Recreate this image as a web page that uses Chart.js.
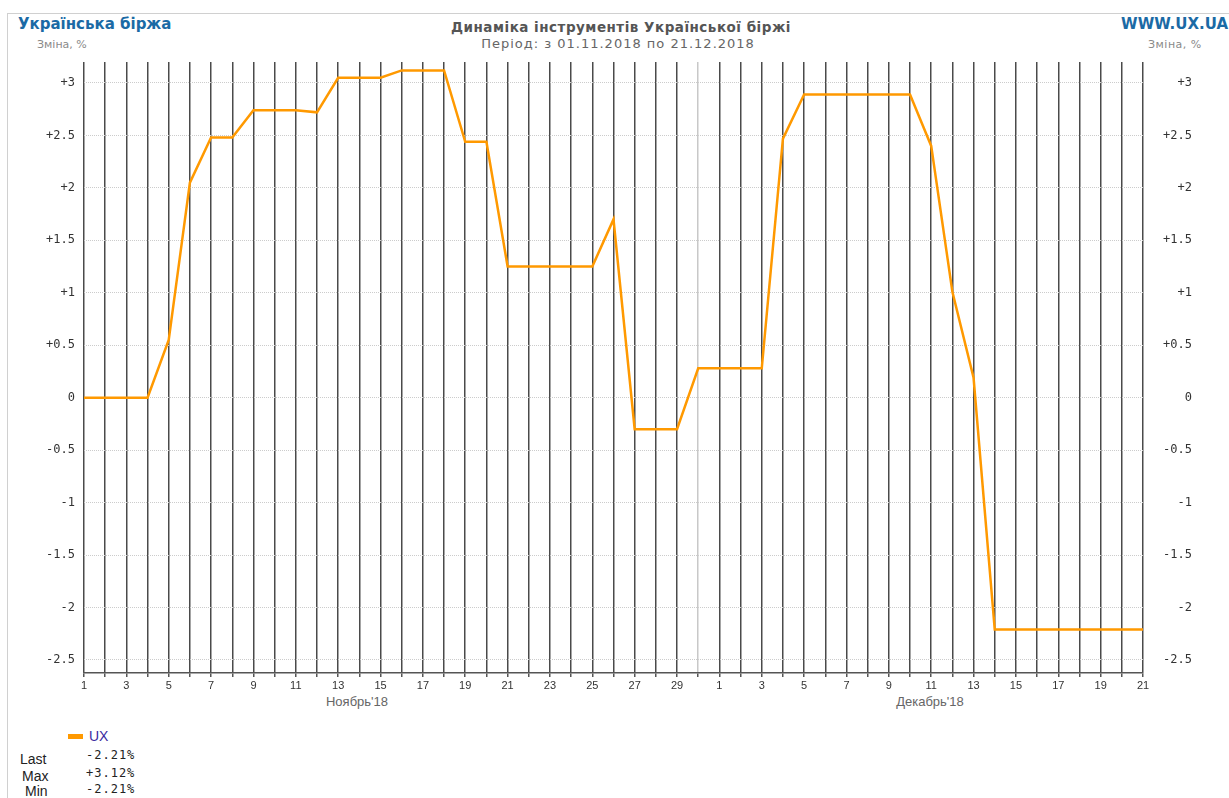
<!DOCTYPE html>
<html>
<head>
<meta charset="utf-8">
<script src="https://cdn.jsdelivr.net/npm/chart.js@4"></script>
<style>
  body { margin: 0; background: #fff; font-family: "DejaVu Sans", sans-serif; }
  #wrap { position: relative; width: 1229px; height: 798px; overflow: hidden; }
  #frameTop { position: absolute; left: 7px; top: 13px; width: 1222px; height: 1px; background: #d0d0d0; }
  #frameLeft { position: absolute; left: 7px; top: 13px; width: 1px; height: 785px; background: #d0d0d0; }
  .txt { position: absolute; white-space: nowrap; }
  .brand { font-weight: bold; font-size: 15px; color: #1b6aa5; }
  .unit { font-size: 11px; color: #8a8a8a; }
  .month { font-family: "Liberation Sans", sans-serif; font-size: 13px; color: #666; }
  .mono { font-family: "DejaVu Sans Mono", monospace; font-size: 12px; letter-spacing: 1px; color: #222; }
  .lbl { font-family: "Liberation Sans", sans-serif; font-size: 14px; color: #222; }
  canvas { position: absolute; left: 0; top: 0; }
</style>
</head>
<body>
<div id="wrap">
  <div id="frameTop"></div>
  <div id="frameLeft"></div>
  <div class="txt brand" style="left:18px; top:15px;">Українська біржа</div>
  <div class="txt unit" style="left:37px; top:38px;">Зміна, %</div>
  <div class="txt" style="left:621px; top:19px; transform:translateX(-50%); font-weight:bold; font-size:13.5px; letter-spacing:0.5px; color:#555;">Динаміка інструментів Української біржі</div>
  <div class="txt" style="left:618px; top:36px; transform:translateX(-50%); font-size:13px; letter-spacing:1px; color:#666;">Період: з 01.11.2018 по 21.12.2018</div>
  <div class="txt brand" style="right:1px; top:15px;">WWW.UX.UA</div>
  <div class="txt unit" style="left:1148px; top:38px; letter-spacing:0.5px;">Зміна, %</div>
  <div class="txt month" style="left:357px; top:694px; transform:translateX(-50%);">Ноябрь'18</div>
  <div class="txt month" style="left:930px; top:694px; transform:translateX(-50%);">Декабрь'18</div>
  <div style="position:absolute; left:68px; top:734px; width:15px; height:5px; background:#ff9900;"></div>
  <div class="txt" style="left:89px; top:728px; font-family:'Liberation Sans',sans-serif; font-size:14px; color:#3a2ba0;">UX</div>
  <div class="txt lbl" style="left:20px; top:751px;">Last</div>
  <div class="txt lbl" style="left:22px; top:768px;">Max</div>
  <div class="txt lbl" style="left:25px; top:783px;">Min</div>
  <div class="txt mono" id="vLast" style="left:86px; top:748px;"></div>
  <div class="txt mono" id="vMax" style="left:86px; top:766px;"></div>
  <div class="txt mono" id="vMin" style="left:86px; top:782px;"></div>
  <canvas id="uxChart" width="1229" height="798"></canvas>
</div>
<script>
// дні: 01.11.2018 - 21.12.2018
var days = ['1','2','3','4','5','6','7','8','9','10','11','12','13','14','15',
            '16','17','18','19','20','21','22','23','24','25','26','27','28','29','30',
            '1','2','3','4','5','6','7','8','9','10','11','12','13','14','15',
            '16','17','18','19','20','21'];
var monthLabels = ["Ноябрь'18", "Декабрь'18"];
var seriesName = 'UX';
// зміна, %
var uxNov = [0, 0, 0, 0, 0.55, 2.05, 2.48, 2.48, 2.74, 2.74,
             2.74, 2.72, 3.05, 3.05, 3.05, 3.12, 3.12, 3.12, 2.44, 2.44,
             1.25, 1.25, 1.25, 1.25, 1.25, 1.70, -0.30, -0.30, -0.30, 0.28];
var uxDec = [0.28, 0.28, 0.28, 2.47, 2.89, 2.89, 2.89, 2.89, 2.89, 2.89,
             2.40, 1.01, 0.19, -2.21, -2.21, -2.21, -2.21, -2.21, -2.21, -2.21, -2.21];
var yTicksStep = 0.5;

var values = uxNov.concat(uxDec);

function fmt(v) {
    return (v > 0 ? '+' : '') + v.toFixed(2) + '%';
}
document.getElementById('vLast').textContent = fmt(values[values.length - 1]);
document.getElementById('vMax').textContent = fmt(Math.max.apply(null, values));
document.getElementById('vMin').textContent = fmt(Math.min.apply(null, values));

function yLabel(v) {
    return (v > 0 ? '+' : '') + v;
}

var monoFont = { family: 'DejaVu Sans Mono', size: 12 };

var ctx = document.getElementById('uxChart').getContext('2d');
var chart = new Chart(ctx, {
    type: 'line',
    data: {
        labels: days,
        datasets: [{
            label: seriesName,
            data: values,
            borderColor: '#ff9900',
            borderWidth: 2.5,
            pointRadius: 0,
            tension: 0,
            fill: false
        }]
    },
    options: {
        responsive: false,
        animation: false,
        layout: { padding: { top: 62, left: 0, right: 37, bottom: 0 } },
        plugins: { legend: { display: false }, tooltip: { enabled: false } },
        scales: {
            x: {
                offset: false,
                grid: {
                    color: function(c) { return c.index === 29 ? '#c8c8c8' : '#4a4a4a'; },
                    lineWidth: 1.5,
                    drawTicks: true,
                    tickLength: 4,
                    tickColor: '#555'
                },
                border: { color: '#555', width: 1.5 },
                ticks: {
                    autoSkip: false,
                    maxRotation: 0,
                    padding: 2,
                    color: '#333',
                    font: { family: 'Liberation Sans', size: 11 },
                    callback: function(val, i) { return i % 2 === 0 ? days[i] : ''; }
                },
                afterFit: function(s) { s.height = 125; }
            },
            y: {
                position: 'left',
                min: -2.624,
                max: 3.2,
                grid: { color: '#cccccc', lineWidth: 1, drawTicks: false },
                border: { display: false, dash: [1, 1] },
                ticks: {
                    stepSize: yTicksStep,
                    maxTicksLimit: 20,
                    includeBounds: false,
                    padding: 9,
                    color: '#333',
                    font: monoFont,
                    callback: yLabel
                },
                afterFit: function(s) { s.width = 84; }
            },
            y2: {
                position: 'right',
                min: -2.624,
                max: 3.2,
                grid: { display: false, drawTicks: false },
                border: { display: false },
                ticks: {
                    stepSize: yTicksStep,
                    maxTicksLimit: 20,
                    includeBounds: false,
                    crossAlign: 'far',
                    padding: 10,
                    color: '#333',
                    font: monoFont,
                    callback: yLabel
                },
                afterFit: function(s) { s.width = 49; }
            }
        }
    }
});
</script>
</body>
</html>
